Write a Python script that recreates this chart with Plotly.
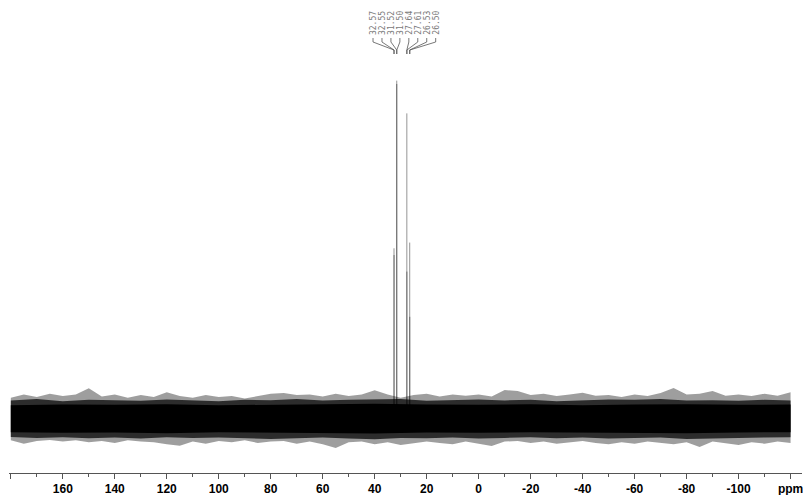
import plotly.graph_objects as go

# ---------------- data ----------------
# peak list (ppm) and relative intensities
peak_ppm = [32.57, 32.55, 31.52, 31.50, 27.64, 27.61, 26.53, 26.50]
peak_height = [50.3, 48.3, 100.0, 99.0, 90.3, 43.4, 52.0, 30.0]
peak_labels = ["32.57", "32.55", "31.52", "31.50", "27.64", "27.61", "26.53", "26.50"]

# noise envelope of the baseline (outer spikes), read every 5 ppm
noise_ppm = [180 - 5 * i for i in range(61)]
noise_upper = [6.0, 7.0, 6.2, 7.2, 6.5, 7.0, 8.8, 6.4, 7.0, 6.0,
               6.8, 6.2, 7.6, 6.5, 6.0, 6.8, 6.2, 6.5, 5.8, 6.6,
               7.2, 7.4, 6.8, 7.0, 6.4, 7.2, 6.5, 7.0, 8.2, 7.0,
               6.0, 6.8, 7.2, 6.4, 7.0, 6.6, 7.0, 6.4, 8.3, 8.0,
               6.8, 7.2, 6.5, 7.0, 7.5, 6.6, 6.8, 6.2, 7.0, 6.5,
               7.4, 8.9, 7.0, 7.2, 8.0, 6.6, 7.0, 6.5, 7.2, 6.6, 7.6]
noise_lower = [-6.6, -7.6, -6.8, -6.5, -7.0, -6.6, -7.2, -6.8, -7.4, -6.6,
               -7.0, -7.2, -7.8, -8.2, -7.0, -7.6, -6.8, -7.2, -6.6, -7.4,
               -7.0, -6.8, -7.6, -7.0, -7.8, -8.9, -7.2, -7.0, -7.8, -7.2,
               -8.0, -7.6, -7.0, -7.4, -7.8, -7.0, -7.6, -8.3, -7.0, -6.8,
               -7.4, -7.0, -7.6, -7.2, -6.8, -7.4, -7.8, -7.2, -7.6, -7.0,
               -7.4, -7.8, -7.2, -8.6, -7.0, -7.6, -8.0, -7.2, -7.6, -7.0, -7.4]
# dense-but-ragged zone of the noise, read every 10 ppm
mid_ppm = [180 - 10 * i for i in range(31)]
mid_upper = [5.2, 5.6, 5.0, 5.4, 5.3, 5.1, 5.5, 5.2, 5.0, 5.4,
             5.3, 5.6, 5.2, 5.4, 5.5, 5.6, 5.1, 5.3, 5.5, 5.2,
             5.4, 5.0, 5.3, 5.5, 5.4, 5.6, 5.2, 5.3, 5.1, 5.4, 5.2]
mid_lower = [-5.6, -5.9, -5.7, -6.0, -5.8, -6.1, -5.7, -5.9, -5.8, -6.0,
             -6.2, -6.0, -5.8, -6.1, -6.3, -5.9, -6.0, -5.8, -6.1, -5.9,
             -5.7, -6.0, -5.8, -6.1, -5.9, -5.8, -6.2, -6.0, -5.9, -5.8, -5.7]
# solid black core of the noise, read every 20 ppm
core_ppm = [180, 160, 140, 120, 100, 80, 60, 40, 20, 0, -20, -40, -60, -80, -100, -120]
core_upper = [3.8, 4.0, 3.9, 4.1, 3.8, 4.0, 4.1, 4.2, 4.0, 3.9, 4.1, 3.8, 4.0, 4.1, 3.9, 4.0]
core_lower = [-4.2, -4.4, -4.3, -4.5, -4.2, -4.3, -4.4, -4.6, -4.3, -4.4, -4.2, -4.3, -4.4, -4.5, -4.3, -4.2]

# axis ticks
tick_vals = [180, 160, 140, 120, 100, 80, 60, 40, 20, 0, -20, -40, -60, -80, -100, -120]
tick_text = ["", "160", "140", "120", "100", "80", "60", "40", "20", "0",
             "-20", "-40", "-60", "-80", "-100", "ppm"]

# ---------------- layout constants ----------------
X_RANGE = [180.7, -124.4]
Y_RANGE = [-16.3, 123.9]
PLOT_TOP, PLOT_BOTTOM = 0, 473      # px
FIG_W, FIG_H = 803, 495


def paper_y(px):
    return 1 - (px - PLOT_TOP) / (PLOT_BOTTOM - PLOT_TOP)


fig = go.Figure()


def band(xs, lo, hi, fillcolor, edge):
    fig.add_trace(go.Scatter(x=xs, y=lo, mode="lines",
                             line=dict(width=0, color="rgba(0,0,0,0)"),
                             hoverinfo="skip", showlegend=False))
    fig.add_trace(go.Scatter(x=xs, y=hi, mode="lines", fill="tonexty",
                             fillcolor=fillcolor,
                             line=dict(width=edge, color=fillcolor),
                             hoverinfo="skip", showlegend=False))


band(noise_ppm, noise_lower, noise_upper, "rgba(0,0,0,0.38)", 0)
band(mid_ppm, mid_lower, mid_upper, "rgba(0,0,0,0.72)", 0)
band(core_ppm, core_lower, core_upper, "black", 0)

# peaks
px_list, py_list = [], []
for p, h in zip(peak_ppm, peak_height):
    px_list += [p, p, None]
    py_list += [0, h, None]
fig.add_trace(go.Scatter(x=px_list, y=py_list, mode="lines",
                         line=dict(width=1, color="rgba(0,0,0,0.42)"),
                         hoverinfo="skip", showlegend=False))

# peak labels + connectors
n = len(peak_ppm)
ppm_per_px = (X_RANGE[0] - X_RANGE[1]) / 793.0
label_gap = 8.95 * ppm_per_px
center = sum(peak_ppm) / n - 2.5 * ppm_per_px
for i, (p, lab) in enumerate(zip(peak_ppm, peak_labels)):
    lx = center - (i - (n - 1) / 2) * label_gap
    fig.add_annotation(x=lx, y=paper_y(37), xref="x", yref="paper",
                       text=lab, textangle=-90, showarrow=False,
                       xanchor="center", yanchor="bottom",
                       font=dict(family="DejaVu Sans Mono", size=8, color="#7a7a7a"))
    path = (f"M {lx},{paper_y(38)} L {lx},{paper_y(42)} "
            f"L {p},{paper_y(50)} L {p},{paper_y(54)}")
    fig.add_shape(type="path", path=path, xref="x", yref="paper",
                  line=dict(color="#555555", width=0.8))

fig.update_layout(
    width=FIG_W, height=FIG_H,
    margin=dict(l=9, r=1, t=PLOT_TOP, b=FIG_H - PLOT_BOTTOM, pad=0),
    paper_bgcolor="white", plot_bgcolor="white",
    showlegend=False,
    xaxis=dict(range=X_RANGE, showgrid=False, zeroline=False,
               showline=True, linecolor="#555555", linewidth=1,
               tickmode="array", tickvals=tick_vals, ticktext=tick_text,
               ticklabeloverflow="allow",
               ticks="outside", ticklen=5, tickcolor="#555555", tickwidth=1,
               tickfont=dict(family="Liberation Sans", size=12, color="black", weight="bold"),
               minor=dict(tickmode="linear", tick0=0, dtick=10, ticks="outside",
                          ticklen=2.5, tickcolor="#555555", tickwidth=1)),
    yaxis=dict(range=Y_RANGE, visible=False, showgrid=False, zeroline=False),
)

fig.write_html("out.html")
